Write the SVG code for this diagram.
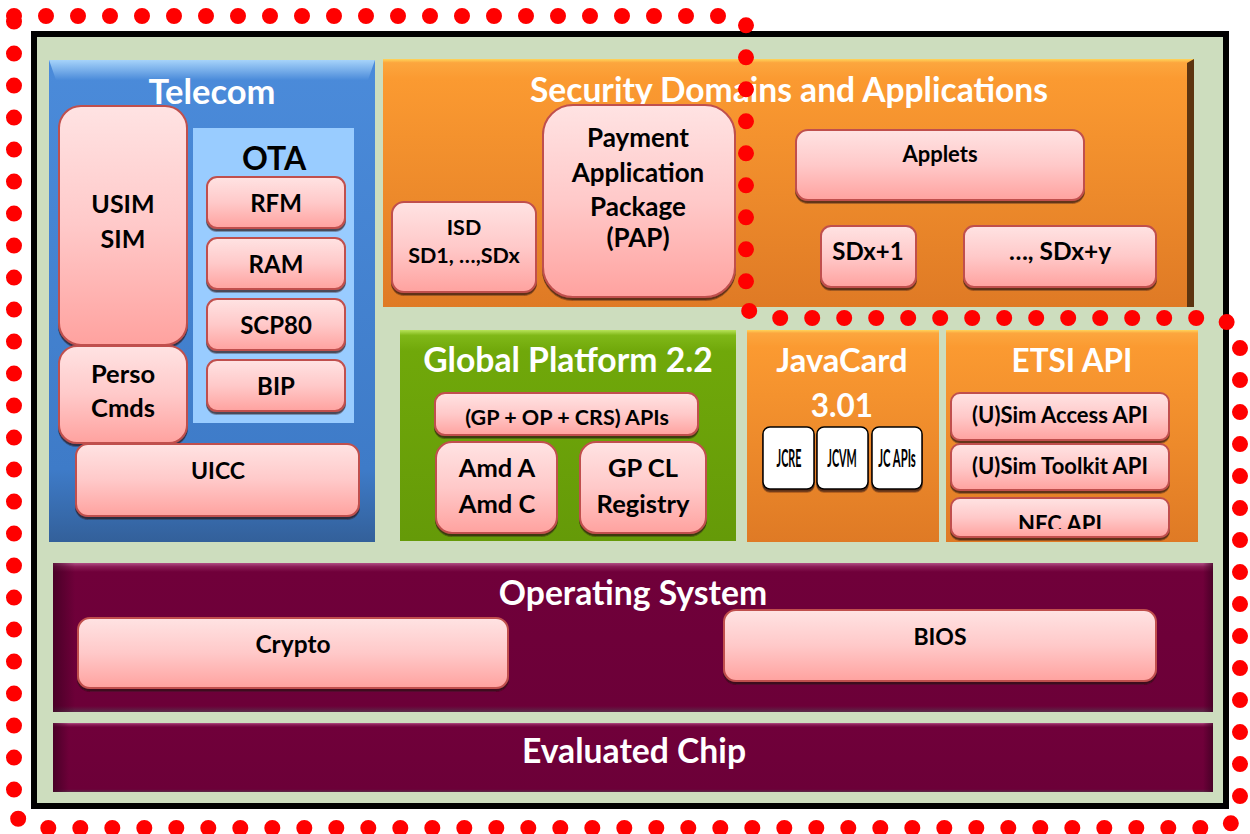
<svg xmlns="http://www.w3.org/2000/svg" width="1250" height="834" viewBox="0 0 1250 834">
<defs>
<linearGradient id="pink" x1="0" y1="0" x2="0" y2="1"><stop offset="0" stop-color="#FFE3E3"/><stop offset="0.5" stop-color="#FFC9C9"/><stop offset="1" stop-color="#FFA29F"/></linearGradient>
<linearGradient id="blue" x1="0" y1="0" x2="0" y2="1"><stop offset="0" stop-color="#4B8BDA"/><stop offset="0.85" stop-color="#3E7BC8"/><stop offset="1" stop-color="#33609A"/></linearGradient>
<linearGradient id="blueTop" x1="0" y1="0" x2="0" y2="1"><stop offset="0" stop-color="#A6D3FA"/><stop offset="1" stop-color="#4B8BDA"/></linearGradient>
<linearGradient id="orange" x1="0" y1="0" x2="0" y2="1"><stop offset="0" stop-color="#FFD45A"/><stop offset="0.015" stop-color="#FCA63E"/><stop offset="0.08" stop-color="#FB9A31"/><stop offset="1" stop-color="#DF7A25"/></linearGradient>
<linearGradient id="green" x1="0" y1="0" x2="0" y2="1"><stop offset="0" stop-color="#B8E35A"/><stop offset="0.025" stop-color="#80B818"/><stop offset="0.1" stop-color="#70A80A"/><stop offset="1" stop-color="#659A08"/></linearGradient>
<linearGradient id="maroon" x1="0" y1="0" x2="0" y2="1"><stop offset="0" stop-color="#B04F86"/><stop offset="0.025" stop-color="#8A1C55"/><stop offset="0.06" stop-color="#70003A"/><stop offset="0.96" stop-color="#6C0038"/><stop offset="1" stop-color="#5A2A48"/></linearGradient>
<linearGradient id="edgeL" x1="0" y1="0" x2="1" y2="0"><stop offset="0" stop-color="#3A0020" stop-opacity="0.7"/><stop offset="1" stop-color="#3A0020" stop-opacity="0"/></linearGradient>
<linearGradient id="edgeR" x1="0" y1="0" x2="1" y2="0"><stop offset="0" stop-color="#3A0020" stop-opacity="0"/><stop offset="1" stop-color="#3A0020" stop-opacity="0.7"/></linearGradient>
<filter id="sh" x="-5%" y="-5%" width="110%" height="130%"><feDropShadow dx="0" dy="2.5" stdDeviation="0.6" flood-color="#2B1208" flood-opacity="0.7"/></filter>
<clipPath id="nfcClip"><rect x="946" y="490" width="252" height="39"/></clipPath>
</defs>
<style>
.pk{fill:url(#pink);stroke:#C0504D;stroke-width:2;filter:url(#sh)}
.wb{fill:#FFFFFF;stroke:#000000;stroke-width:1.5;filter:url(#sh)}
.t{font-family:Lato,"Open Sans","Liberation Sans",sans-serif;font-weight:bold;text-anchor:middle}
.w{fill:#FFFFFF}
.k{fill:#000000}
.ttl{font-size:33.7px}
.jc{font-size:24px}
.dots{fill:none;stroke:#FF0000;stroke-width:16;stroke-linecap:round;stroke-dasharray:0 32}
</style>
<rect x="0" y="0" width="1250" height="834" fill="#FFFFFF"/>
<rect x="34" y="34" width="1192" height="772" fill="#CDDDBE" stroke="#000000" stroke-width="6"/>

<g id="telecom">
<rect x="49" y="60" width="326" height="482" fill="url(#blue)"/>
<path d="M49,60 H375 L368,80 H56 Z" fill="url(#blueTop)"/>
<text class="t w" font-size="34.5" x="212" y="104">Telecom</text>
</g>
<g id="ota">
<rect x="193" y="128" width="161" height="295" fill="#99CCFF"/>
<text class="t k" font-size="32" x="274" y="170">OTA</text>
</g>
<g id="usim">
<rect class="pk" x="59" y="106" width="128" height="239" rx="22"/>
<text class="t k" font-size="25" x="123" y="213">USIM</text>
<text class="t k" font-size="25" x="123" y="248">SIM</text>
</g>
<g id="rfm">
<rect class="pk" x="207" y="177" width="138" height="51" rx="10"/>
<text class="t k" font-size="24" x="276" y="212">RFM</text>
</g>
<g id="ram">
<rect class="pk" x="207" y="238" width="138" height="51" rx="10"/>
<text class="t k" font-size="24" x="276" y="273">RAM</text>
</g>
<g id="scp80">
<rect class="pk" x="207" y="299" width="138" height="51" rx="10"/>
<text class="t k" font-size="24" x="276" y="334">SCP80</text>
</g>
<g id="bip">
<rect class="pk" x="207" y="360" width="138" height="51" rx="10"/>
<text class="t k" font-size="24" x="276" y="395">BIP</text>
</g>
<g id="perso">
<rect class="pk" x="59" y="346" width="128" height="97" rx="18"/>
<text class="t k" font-size="25.5" x="123" y="383">Perso</text>
<text class="t k" font-size="25.5" x="123" y="417">Cmds</text>
</g>
<g id="uicc">
<rect class="pk" x="76" y="444" width="283" height="72" rx="12"/>
<text class="t k" font-size="23" x="218" y="479">UICC</text>
</g>

<g id="security-domains">
<rect x="383" y="59" width="811" height="248" fill="url(#orange)"/>
<path d="M1187,63 L1194,59 V307 H1187 Z" fill="#5C3410"/>
<text class="t w" font-size="33.6" x="789" y="102">Security Domains and Applications</text>
</g>
<g id="isd">
<rect class="pk" x="392" y="202" width="144" height="90" rx="12"/>
<text class="t k" font-size="21.5" x="464" y="235">ISD</text>
<text class="t k" font-size="21.5" x="464" y="263">SD1, …,SDx</text>
</g>
<g id="pap">
<rect class="pk" x="543" y="105" width="192" height="192" rx="30"/>
<text class="t k" font-size="26" x="638" y="147">Payment</text>
<text class="t k" font-size="26" x="638" y="182">Application</text>
<text class="t k" font-size="26" x="638" y="216">Package</text>
<text class="t k" font-size="26" x="638" y="247">(PAP)</text>
</g>
<g id="applets">
<rect class="pk" x="796" y="130" width="288" height="70" rx="12"/>
<text class="t k" font-size="22" x="940" y="162">Applets</text>
</g>
<g id="sdx1">
<rect class="pk" x="821" y="226" width="95" height="61" rx="10"/>
<text class="t k" font-size="24" x="868" y="260">SDx+1</text>
</g>
<g id="sdxy">
<rect class="pk" x="964" y="226" width="192" height="61" rx="10"/>
<text class="t k" font-size="24.5" x="1060" y="260">…, SDx+y</text>
</g>

<g id="global-platform">
<rect x="400" y="330" width="336" height="211" fill="url(#green)"/>
<text class="t w ttl" x="568" y="372">Global Platform 2.2</text>
</g>
<g id="gp-apis">
<rect class="pk" x="435" y="393" width="263" height="42" rx="10"/>
<text class="t k" font-size="21.5" x="567" y="425">(GP + OP + CRS) APIs</text>
</g>
<g id="amd">
<rect class="pk" x="436" y="442" width="121" height="91" rx="16"/>
<text class="t k" font-size="25.5" x="497" y="477">Amd A</text>
<text class="t k" font-size="25.5" x="497" y="513">Amd C</text>
</g>
<g id="gpcl">
<rect class="pk" x="580" y="442" width="126" height="91" rx="16"/>
<text class="t k" font-size="25.5" x="643" y="477">GP CL</text>
<text class="t k" font-size="25.5" x="643" y="513">Registry</text>
</g>

<g id="javacard">
<rect x="747" y="330" width="192" height="212" fill="url(#orange)"/>
<text class="t w" font-size="32.7" x="842" y="372">JavaCard</text>
<text class="t w" font-size="31.5" x="842" y="417">3.01</text>
</g>
<g id="jcre">
<rect class="wb" x="763" y="427" width="51" height="62" rx="7"/>
<text class="t k jc" transform="translate(789,467) scale(0.45,1)">JCRE</text>
</g>
<g id="jcvm">
<rect class="wb" x="817" y="427" width="51" height="62" rx="7"/>
<text class="t k jc" transform="translate(842,467) scale(0.45,1)">JCVM</text>
</g>
<g id="jcapis">
<rect class="wb" x="872" y="427" width="50" height="62" rx="7"/>
<text class="t k jc" transform="translate(897,467) scale(0.47,1)">JC APIs</text>
</g>

<g id="etsi-api">
<rect x="946" y="330" width="252" height="212" fill="url(#orange)"/>
<text class="t w" font-size="31.5" x="1072" y="372">ETSI API</text>
</g>
<g id="usim-access">
<rect class="pk" x="951" y="393" width="218" height="47" rx="9"/>
<text class="t k" font-size="22" x="1060" y="423">(U)Sim Access API</text>
</g>
<g id="usim-toolkit">
<rect class="pk" x="951" y="444" width="218" height="46" rx="9"/>
<text class="t k" font-size="22" x="1060" y="474">(U)Sim Toolkit API</text>
</g>
<g id="nfc-api">
<rect class="pk" x="951" y="498" width="218" height="39" rx="9"/>
<text class="t k" font-size="22" x="1060" y="532" clip-path="url(#nfcClip)">NFC API</text>
</g>

<g id="operating-system">
<rect x="53" y="563" width="1160" height="149" fill="url(#maroon)"/>
<rect x="53" y="563" width="22" height="149" fill="url(#edgeL)"/>
<rect x="1203" y="563" width="10" height="149" fill="url(#edgeR)"/>
<text class="t w ttl" x="633" y="605">Operating System</text>
</g>
<g id="crypto">
<rect class="pk" x="78" y="618" width="430" height="70" rx="12"/>
<text class="t k" font-size="24.5" x="293" y="653">Crypto</text>
</g>
<g id="bios">
<rect class="pk" x="724" y="610" width="432" height="71" rx="12"/>
<text class="t k" font-size="23" x="940" y="645">BIOS</text>
</g>

<g id="evaluated-chip">
<rect x="53" y="723" width="1160" height="69" fill="url(#maroon)"/>
<rect x="53" y="723" width="16" height="69" fill="url(#edgeL)"/>
<rect x="1203" y="723" width="10" height="69" fill="url(#edgeR)"/>
<text class="t w ttl" x="634" y="763">Evaluated Chip</text>
</g>

<g id="connectors"/>

<g id="toe-boundary">
<path class="dots" d="M14,16 H720 L746,22 V310 L774,318 H1222 L1240,334 V817 L1224,828 H40 L14,817 Z"/>
</g>
</svg>
